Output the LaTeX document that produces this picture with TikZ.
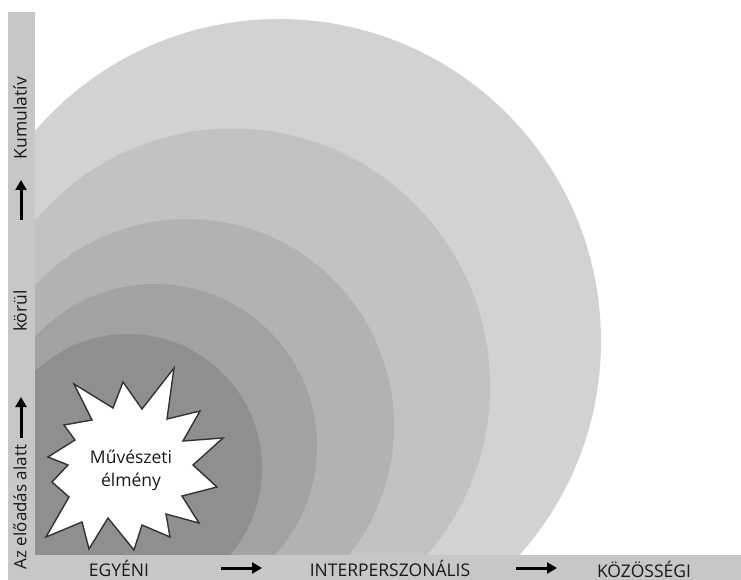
\documentclass[tikz,border=0pt]{standalone}
\usepackage{fontspec}
\setmainfont{Open Sans}
\usetikzlibrary{arrows.meta}
\definecolor{barc}{gray}{0.78}
\definecolor{ca}{gray}{0.825}
\definecolor{cb}{gray}{0.76}
\definecolor{cc}{gray}{0.70}
\definecolor{cd}{gray}{0.635}
\definecolor{ce}{gray}{0.56}
\definecolor{inkc}{gray}{0.1}
\tikzset{
  bar/.style={fill=barc,draw=none},
  band/.style={draw=none},
  hlabel/.style={font=\fontsize{17.5}{21}\selectfont,text=inkc,inner sep=0pt,anchor=center},
  vlabel/.style={hlabel,rotate=90},
  axisarrow/.style={draw=black,line width=3pt,-{Triangle[length=10pt,width=11pt]}},
  burst/.style={fill=white,draw=black!80,line width=1.4pt,line join=miter}
}
\begin{document}
\begin{tikzpicture}[x=1pt,y=-1pt]
\useasboundingbox (0,0) rectangle (741,580);
\begin{scope}
\clip (35,0) rectangle (741,555);
\fill[band,ca] (279,341) circle (322pt);
\fill[band,cb] (232.5,386) circle (257.5pt);
\fill[band,cc] (187,426) circle (207pt);
\fill[band,cd] (155,446) circle (162pt);
\fill[band,ce] (128,468) circle (134pt);
\end{scope}
\fill[bar] (8,12) rectangle (35,580);
\fill[bar] (8,555) rectangle (741,580);
\draw[burst] (174,368) -- (167,419) -- (200,411) -- (183,441) -- (223,438) -- (193,465) -- (217,487) -- (182,496) -- (199,523) -- (166,514) -- (170,537) -- (142,525) -- (134,550) -- (108,518) -- (89,549) -- (82,522) -- (46,537) -- (69,497) -- (52,482) -- (68,465) -- (48,457) -- (75,440) -- (64,425) -- (92,420) -- (74,384) -- (113,408) -- (123,382) -- (142,409) -- cycle;
\node[hlabel,align=center,font=\fontsize{17.5}{23}\selectfont] (exp) at (131,470) {Művészeti\\élmény};
\node[vlabel] (kum) at (20,118) {Kumulatív};
\node[vlabel] (kor) at (20,311) {körül};
\node[vlabel,font=\fontsize{17}{20}\selectfont] (az) at (20,507) {Az előadás alatt};
\node[hlabel] (egy) at (119,568) {EGYÉNI};
\node[hlabel] (int) at (390,568) {INTERPERSZONÁLIS};
\node[hlabel] (koz) at (644,569) {KÖZÖSSÉGI};
\coordinate (ua1) at (21,438);
\coordinate (ua2) at (21,397);
\coordinate (ub1) at (21,220);
\coordinate (ub2) at (21,180);
\coordinate (ra1) at (221,568);
\coordinate (ra2) at (262,568);
\coordinate (rb1) at (516,568);
\coordinate (rb2) at (557,568);
\draw[axisarrow] (ua1) -- (ua2);
\draw[axisarrow] (ub1) -- (ub2);
\draw[axisarrow] (ra1) -- (ra2);
\draw[axisarrow] (rb1) -- (rb2);
\end{tikzpicture}
\end{document}
